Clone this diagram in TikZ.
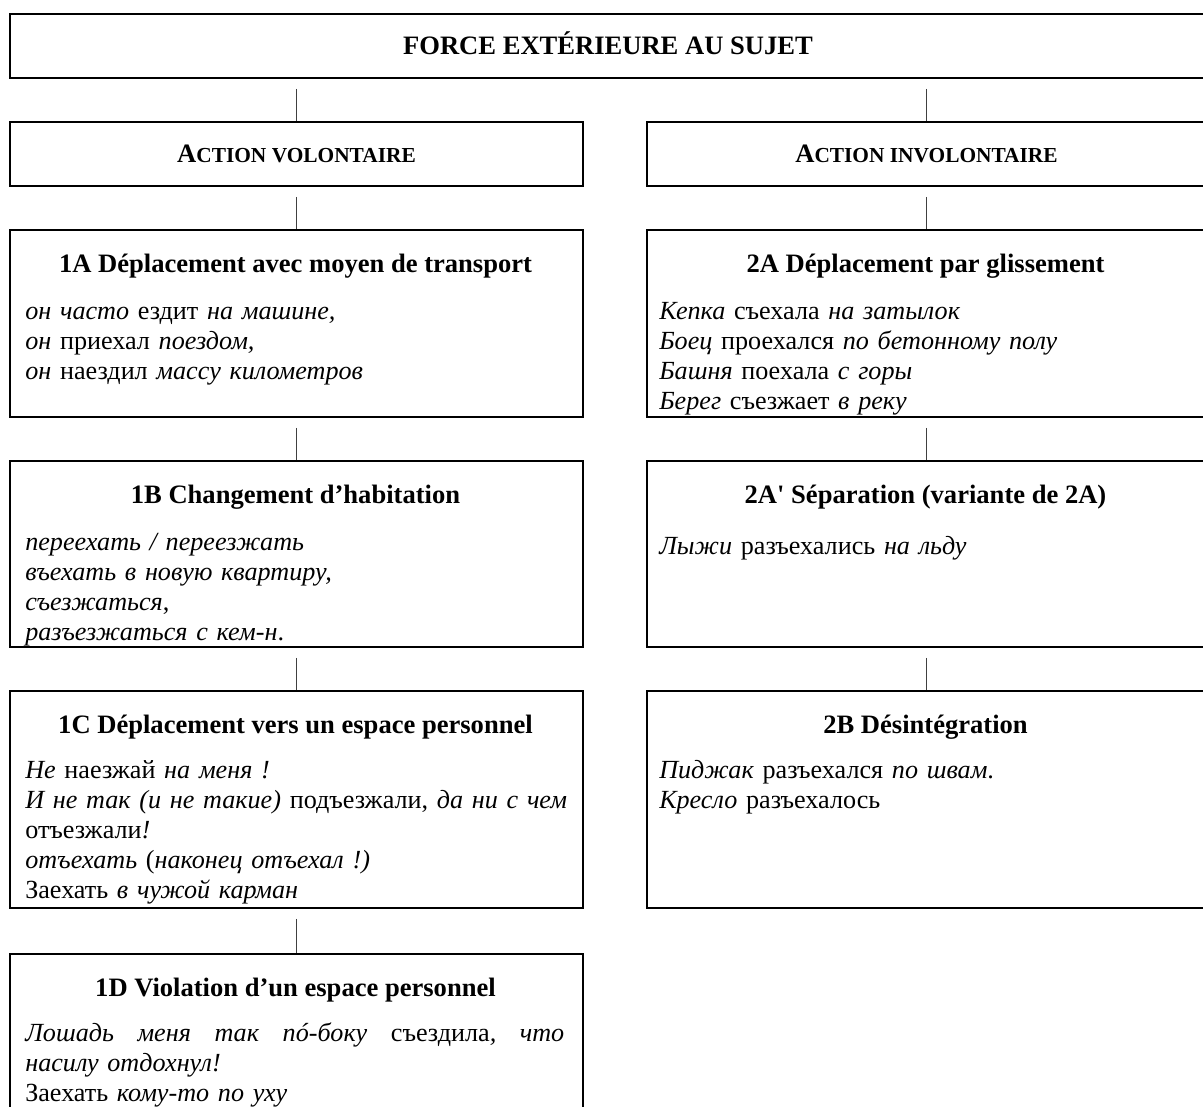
\documentclass[tikz,border=0pt]{standalone}
\usepackage{fontspec}
\setmainfont{Liberation Serif}[Ligatures=TeXOff]
\usetikzlibrary{positioning}
\newcommand{\smallcap}[1]{{\fontsize{15.2}{16}\selectfont #1}}

\begin{document}
\begin{tikzpicture}[
    cell/.style={draw, rectangle, line width=1.4pt, anchor=north west, inner sep=0pt},
    headbox/.style={cell, minimum height=1.6cm, text height=12.4pt, text depth=0pt, font=\bfseries\fontsize{18.9}{21.1}\selectfont},
    headtext/.style={anchor=base, inner sep=0pt, font=\bfseries\fontsize{18.9}{21.1}\selectfont},
    bodytext/.style={anchor=base west, inner sep=0pt, text width=14.2cm, align=left, font=\fontsize{18.6}{21.4}\selectfont},
    link/.style={draw=black!75, line width=0.7pt, shorten <=0.25cm}
]
    \useasboundingbox (0,0) rectangle (30.075,-27.65);
    \clip (0,0) rectangle (30.075,-27.65);

    % top level
    \node[headbox, minimum width=29.9cm] (top) at (0.225,-0.325) {FORCE EXTÉRIEURE AU SUJET};
    \node[headbox, minimum width=14.325cm] (act1) at (0.225,-3.025) {A\smallcap{CTION VOLONTAIRE}};
    \node[headbox, minimum width=13.975cm] (act2) at (16.15,-3.025) {A\smallcap{CTION INVOLONTAIRE}};

    % left column
    \node[cell, minimum width=14.325cm, minimum height=4.675cm] (b1A) at (0.225,-5.725) {};
    \node[cell, minimum width=14.325cm, minimum height=4.65cm] (b1B) at (0.225,-11.5) {};
    \node[cell, minimum width=14.325cm, minimum height=5.425cm] (b1C) at (0.225,-17.25) {};
    \node[cell, minimum width=14.325cm, minimum height=4.675cm] (b1D) at (0.225,-23.825) {};

    \node[headtext] (h1A) at (7.3875,-6.8) {1A Déplacement avec moyen de transport};
    \node[bodytext] (t1A) at (0.625,-7.975) {\textit{он часто} ездит \textit{на машине,}\\ \textit{он} приехал \textit{поездом,}\\ \textit{он} наездил \textit{массу километров}};
    \node[headtext] (h1B) at (7.3875,-12.575) {1B Changement d’habitation};
    \node[bodytext] (t1B) at (0.625,-13.75) {\textit{переехать / переезжать}\\ \textit{въехать в новую квартиру,}\\ \textit{съезжаться},\\ \textit{разъезжаться с кем-н}.};
    \node[headtext] (h1C) at (7.3875,-18.325) {1C Déplacement vers un espace personnel};
    \node[bodytext] (t1C) at (0.625,-19.45) {\textit{Не} наезжай \textit{на меня !}\\ \textit{И не так (и не такие)} подъезжали, \textit{да ни с чем}\\ отъезжали\textit{!}\\ \textit{отъехать} (\textit{наконец отъехал !)}\\ Заехать \textit{в чужой карман}};
    \node[headtext] (h1D) at (7.3875,-24.9) {1D Violation d’un espace personnel};
    \node[bodytext] (t1D) at (0.625,-26.025) {\hbox to 13.475cm{\textit{Лошадь}\hfill\textit{меня}\hfill\textit{так}\hfill\textit{пó-боку}\hfill съездила\textit{,}\hfill\textit{что}}\\ \textit{насилу отдохнул!}\\ Заехать \textit{кому-то по уху}};

    % right column
    \node[cell, minimum width=13.975cm, minimum height=4.675cm] (b2A) at (16.15,-5.725) {};
    \node[cell, minimum width=13.975cm, minimum height=4.65cm] (b2Ap) at (16.15,-11.5) {};
    \node[cell, minimum width=13.975cm, minimum height=5.425cm] (b2B) at (16.15,-17.25) {};

    \node[headtext] (h2A) at (23.1375,-6.8) {2A Déplacement par glissement};
    \node[bodytext] (t2A) at (16.475,-7.975) {\textit{Кепка} съехала \textit{на затылок}\\ \textit{Боец} проехался \textit{по бетонному полу}\\ \textit{Башня} поехала \textit{с горы}\\ \textit{Берег} съезжает \textit{в реку}};
    \node[headtext] (h2Ap) at (23.1375,-12.575) {2A' Séparation (variante de 2A)};
    \node[bodytext] (t2Ap) at (16.475,-13.85) {\textit{Лыжи} разъехались \textit{на льду}};
    \node[headtext] (h2B) at (23.1375,-18.325) {2B Désintégration};
    \node[bodytext] (t2B) at (16.475,-19.45) {\textit{Пиджак} разъехался \textit{по швам}.\\ \textit{Кресло} разъехалось};

    % connectors
    \draw[link] (top.south -| act1.north) -- (act1.north);
    \draw[link] (top.south -| act2.north) -- (act2.north);
    \draw[link] (act1.south) -- (b1A.north);
    \draw[link] (b1A.south) -- (b1B.north);
    \draw[link] (b1B.south) -- (b1C.north);
    \draw[link] (b1C.south) -- (b1D.north);
    \draw[link] (act2.south) -- (b2A.north);
    \draw[link] (b2A.south) -- (b2Ap.north);
    \draw[link] (b2Ap.south) -- (b2B.north);
\end{tikzpicture}
\end{document}
